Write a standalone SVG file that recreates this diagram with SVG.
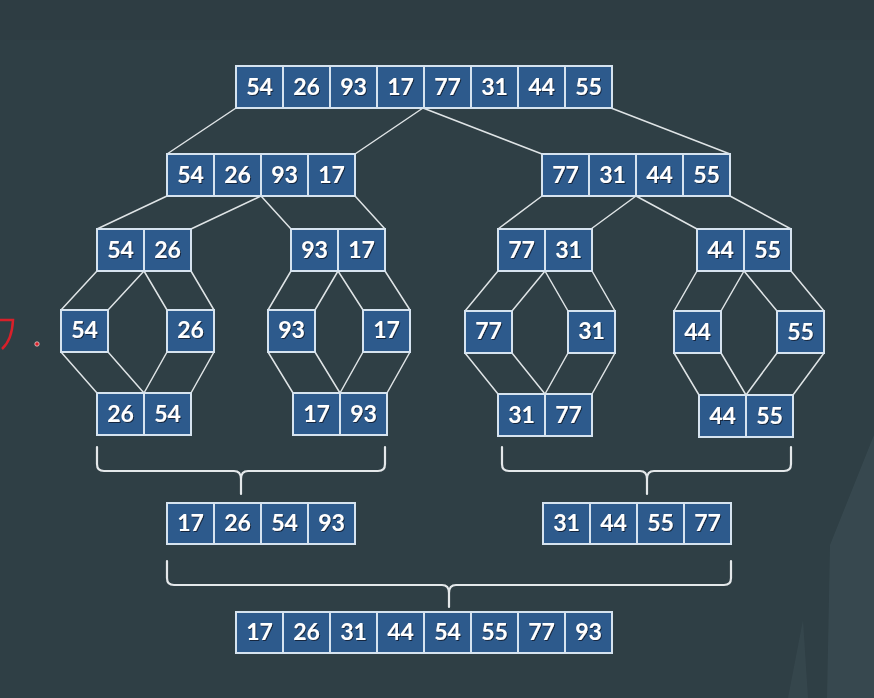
<svg xmlns="http://www.w3.org/2000/svg" width="874" height="698" viewBox="0 0 874 698">
<defs>
<filter id="sh" x="-20%" y="-20%" width="140%" height="140%"><feDropShadow dx="1" dy="1" stdDeviation="0.6" flood-color="#0a1a2a" flood-opacity="0.8"/></filter>
</defs>
<style>
.c{fill:#2d5a8c;stroke:#d6e3ef;stroke-width:2}
.t{fill:#ffffff;font-family:Lato,"Open Sans","Liberation Sans",sans-serif;font-weight:bold;font-size:23px;text-anchor:middle;filter:url(#sh)}
.l{stroke:#dfe4e6;stroke-width:1.5;fill:none}
.b{stroke:#e4e8ea;stroke-width:2.2;fill:none;stroke-linecap:round}
</style>
<rect width="874" height="698" fill="#2f3f45"/>
<path d="M874,435 L862,465 L830,545 L827,698 H874 Z" fill="#3a4b51" opacity="0.8"/>
<path d="M788,698 L803,620 L808,698 Z" fill="#3a4b51" opacity="0.6"/>
<path d="M0,0 H874 V40 H0 Z" fill="#2c3b41" opacity="0.4"/>
<path d="M0,320 H13 Q12,340 2,349" fill="none" stroke="#d8202a" stroke-width="2.5"/>
<circle cx="37" cy="344" r="2.2" fill="#d8202a" stroke="#e8d0d0" stroke-width="0.8"/>

<g id="connectors">
<path class="l" d="M236,108 L167,154 M423,108 L355,154 M423,108 L542,154 M611,108 L730,154"/>
<path class="l" d="M167,196 L97,229 M261,196 L191,229 M261,196 L291,229 M355,196 L385,229"/>
<path class="l" d="M542,196 L498,229 M636,196 L591,229 M636,196 L697,229 M730,196 L791,229"/>
<path class="l" d="M97,271 L61,310 M144,271 L108,310 M144,271 L167,310 M191,271 L214,310 M61,352 L97,393 M108,352 L144,393 M167,352 L144,393 M214,352 L191,393"/>
<path class="l" d="M291,271 L268,310 M338,271 L315,310 M338,271 L363,310 M385,271 L410,310 M268,352 L293,393 M315,352 L340,393 M363,352 L340,393 M410,352 L387,393"/>
<path class="l" d="M498,271 L465,311 M545,271 L512,311 M545,271 L568,311 M592,271 L615,311 M465,353 L498,394 M512,353 L545,394 M568,353 L545,394 M615,353 L592,394"/>
<path class="l" d="M697,271 L674,311 M744,271 L721,311 M744,271 L777,311 M791,271 L824,311 M674,353 L699,395 M721,353 L746,395 M777,353 L746,395 M824,353 L793,395"/>
<path class="b" d="M97,447 V464 Q97,471 104,471 H234 Q241,471 241,479 V494 M241,479 Q241,471 248,471 H378 Q385,471 385,464 V447"/>
<path class="b" d="M502,447 V464 Q502,471 509,471 H640 Q647,471 647,479 V494 M647,479 Q647,471 654,471 H784 Q791,471 791,464 V447"/>
<path class="b" d="M167,561 V578 Q167,585 174,585 H442 Q449,585 449,593 V607 M449,593 Q449,585 456,585 H724 Q731,585 731,578 V561"/>
</g>

<g id="n-top">
<rect class="c" x="236" y="66" width="47" height="42"/><text class="t" x="259.5" y="95">54</text>
<rect class="c" x="283" y="66" width="47" height="42"/><text class="t" x="306.5" y="95">26</text>
<rect class="c" x="330" y="66" width="47" height="42"/><text class="t" x="353.5" y="95">93</text>
<rect class="c" x="377" y="66" width="47" height="42"/><text class="t" x="400.5" y="95">17</text>
<rect class="c" x="424" y="66" width="47" height="42"/><text class="t" x="447.5" y="95">77</text>
<rect class="c" x="471" y="66" width="47" height="42"/><text class="t" x="494.5" y="95">31</text>
<rect class="c" x="518" y="66" width="47" height="42"/><text class="t" x="541.5" y="95">44</text>
<rect class="c" x="565" y="66" width="47" height="42"/><text class="t" x="588.5" y="95">55</text>
</g>

<g id="n-l2a">
<rect class="c" x="167" y="154" width="47" height="42"/><text class="t" x="190.5" y="183">54</text>
<rect class="c" x="214" y="154" width="47" height="42"/><text class="t" x="237.5" y="183">26</text>
<rect class="c" x="261" y="154" width="47" height="42"/><text class="t" x="284.5" y="183">93</text>
<rect class="c" x="308" y="154" width="47" height="42"/><text class="t" x="331.5" y="183">17</text>
</g>
<g id="n-l2b">
<rect class="c" x="542" y="154" width="47" height="42"/><text class="t" x="565.5" y="183">77</text>
<rect class="c" x="589" y="154" width="47" height="42"/><text class="t" x="612.5" y="183">31</text>
<rect class="c" x="636" y="154" width="47" height="42"/><text class="t" x="659.5" y="183">44</text>
<rect class="c" x="683" y="154" width="47" height="42"/><text class="t" x="706.5" y="183">55</text>
</g>

<g id="n-l3a">
<rect class="c" x="97" y="229" width="47" height="42"/><text class="t" x="120.5" y="258">54</text>
<rect class="c" x="144" y="229" width="47" height="42"/><text class="t" x="167.5" y="258">26</text>
</g>
<g id="n-l3b">
<rect class="c" x="291" y="229" width="47" height="42"/><text class="t" x="314.5" y="258">93</text>
<rect class="c" x="338" y="229" width="47" height="42"/><text class="t" x="361.5" y="258">17</text>
</g>
<g id="n-l3c">
<rect class="c" x="498" y="229" width="47" height="42"/><text class="t" x="521.5" y="258">77</text>
<rect class="c" x="545" y="229" width="47" height="42"/><text class="t" x="568.5" y="258">31</text>
</g>
<g id="n-l3d">
<rect class="c" x="697" y="229" width="47" height="42"/><text class="t" x="720.5" y="258">44</text>
<rect class="c" x="744" y="229" width="47" height="42"/><text class="t" x="767.5" y="258">55</text>
</g>

<g id="n-s54"><rect class="c" x="61" y="310" width="47" height="42"/><text class="t" x="84.5" y="338">54</text></g>
<g id="n-s26"><rect class="c" x="167" y="310" width="47" height="42"/><text class="t" x="190.5" y="338">26</text></g>
<g id="n-s93"><rect class="c" x="268" y="310" width="47" height="42"/><text class="t" x="291.5" y="338">93</text></g>
<g id="n-s17"><rect class="c" x="363" y="310" width="47" height="42"/><text class="t" x="386.5" y="338">17</text></g>
<g id="n-s77"><rect class="c" x="465" y="311" width="47" height="42"/><text class="t" x="488.5" y="339">77</text></g>
<g id="n-s31"><rect class="c" x="568" y="311" width="47" height="42"/><text class="t" x="591.5" y="339">31</text></g>
<g id="n-s44"><rect class="c" x="674" y="311" width="47" height="42"/><text class="t" x="697.5" y="340">44</text></g>
<g id="n-s55"><rect class="c" x="777" y="311" width="47" height="42"/><text class="t" x="800.5" y="340">55</text></g>

<g id="n-l5a">
<rect class="c" x="97" y="393" width="47" height="42"/><text class="t" x="120.5" y="422">26</text>
<rect class="c" x="144" y="393" width="47" height="42"/><text class="t" x="167.5" y="422">54</text>
</g>
<g id="n-l5b">
<rect class="c" x="293" y="393" width="47" height="42"/><text class="t" x="316.5" y="422">17</text>
<rect class="c" x="340" y="393" width="47" height="42"/><text class="t" x="363.5" y="422">93</text>
</g>
<g id="n-l5c">
<rect class="c" x="498" y="394" width="47" height="42"/><text class="t" x="521.5" y="423">31</text>
<rect class="c" x="545" y="394" width="47" height="42"/><text class="t" x="568.5" y="423">77</text>
</g>
<g id="n-l5d">
<rect class="c" x="699" y="395" width="47" height="42"/><text class="t" x="722.5" y="424">44</text>
<rect class="c" x="746" y="395" width="47" height="42"/><text class="t" x="769.5" y="424">55</text>
</g>

<g id="n-l6a">
<rect class="c" x="167" y="503" width="47" height="41"/><text class="t" x="190.5" y="531">17</text>
<rect class="c" x="214" y="503" width="47" height="41"/><text class="t" x="237.5" y="531">26</text>
<rect class="c" x="261" y="503" width="47" height="41"/><text class="t" x="284.5" y="531">54</text>
<rect class="c" x="308" y="503" width="47" height="41"/><text class="t" x="331.5" y="531">93</text>
</g>
<g id="n-l6b">
<rect class="c" x="543" y="503" width="47" height="41"/><text class="t" x="566.5" y="531">31</text>
<rect class="c" x="590" y="503" width="47" height="41"/><text class="t" x="613.5" y="531">44</text>
<rect class="c" x="637" y="503" width="47" height="41"/><text class="t" x="660.5" y="531">55</text>
<rect class="c" x="684" y="503" width="47" height="41"/><text class="t" x="707.5" y="531">77</text>
</g>

<g id="n-bottom">
<rect class="c" x="236" y="612" width="47" height="41"/><text class="t" x="259.5" y="640">17</text>
<rect class="c" x="283" y="612" width="47" height="41"/><text class="t" x="306.5" y="640">26</text>
<rect class="c" x="330" y="612" width="47" height="41"/><text class="t" x="353.5" y="640">31</text>
<rect class="c" x="377" y="612" width="47" height="41"/><text class="t" x="400.5" y="640">44</text>
<rect class="c" x="424" y="612" width="47" height="41"/><text class="t" x="447.5" y="640">54</text>
<rect class="c" x="471" y="612" width="47" height="41"/><text class="t" x="494.5" y="640">55</text>
<rect class="c" x="518" y="612" width="47" height="41"/><text class="t" x="541.5" y="640">77</text>
<rect class="c" x="565" y="612" width="47" height="41"/><text class="t" x="588.5" y="640">93</text>
</g>
</svg>
